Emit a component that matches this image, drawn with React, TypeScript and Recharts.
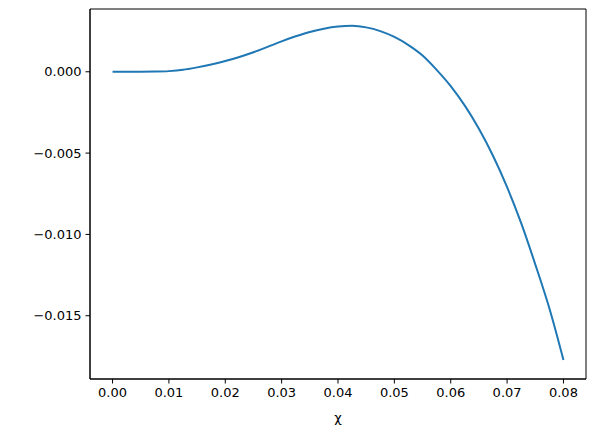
import { LineChart, Line, XAxis, YAxis, ReferenceArea } from 'recharts'

// values
const chiValues = [
  0, 0.0025, 0.005, 0.0075, 0.01, 0.0125, 0.015, 0.0175, 0.02, 0.0225, 0.025,
  0.0275, 0.03, 0.0325, 0.035, 0.0375, 0.04, 0.0425, 0.045, 0.0475, 0.05,
  0.0525, 0.055, 0.0575, 0.06, 0.0625, 0.065, 0.0675, 0.07, 0.0725, 0.075,
  0.0775, 0.08,
]
const fValues = [
  0, 0, 0, 0.00001, 0.00004, 0.00012, 0.00027, 0.00045, 0.00066, 0.00091,
  0.0012, 0.00153, 0.00187, 0.00218, 0.00245, 0.00265, 0.00278, 0.00283,
  0.00273, 0.0025, 0.00214, 0.00164, 0.001, 0.00012, -0.00088, -0.00208,
  -0.0035, -0.00516, -0.00709, -0.00931, -0.01184, -0.01454, -0.01772,
]
const xTicks = [0, 0.01, 0.02, 0.03, 0.04, 0.05, 0.06, 0.07, 0.08]
const yTicks = [-0.015, -0.01, -0.005, 0]

const xDomain: [number, number] = [-0.004, 0.084]
const yDomain: [number, number] = [-0.01889, 0.00386]

const data = chiValues.map((chi, i) => ({ chi, f: fValues[i] }))

const font = 'DejaVu Sans, sans-serif'
const tickStyle = { fontSize: 13, fill: '#000', fontFamily: font }

const fmtY = (v: number) => {
  const s = Math.abs(v).toFixed(3)
  return v < 0 ? '\u2212' + s : s
}

export default function App() {
  return (
    <div style={{ position: 'absolute', left: 0, top: 0, background: '#fff' }}>
      <LineChart
        width={596}
        height={432}
        data={data}
        margin={{ top: 9, right: 10, left: 0, bottom: 0 }}
      >
        <XAxis
          dataKey="chi"
          type="number"
          domain={xDomain}
          ticks={xTicks}
          allowDataOverflow
          tickFormatter={(v: number) => v.toFixed(2)}
          tick={tickStyle}
          tickSize={4.5}
          tickMargin={4}
          stroke="#000"
          height={53}
          label={{
            value: 'χ',
            position: 'insideBottom',
            offset: 10,
            style: { fontSize: 13, fill: '#000', fontFamily: font },
          }}
        />
        <YAxis
          type="number"
          domain={yDomain}
          ticks={yTicks}
          allowDataOverflow
          tickFormatter={fmtY}
          tick={tickStyle}
          tickSize={4.5}
          tickMargin={4}
          stroke="#000"
          width={90}
        />
        <ReferenceArea
          x1={xDomain[0]}
          x2={xDomain[1]}
          y1={yDomain[0]}
          y2={yDomain[1]}
          fill="none"
          stroke="#000"
          strokeWidth={1}
          ifOverflow="extendDomain"
        />
        <Line
          dataKey="f"
          type="monotone"
          stroke="#1f77b4"
          strokeWidth={2}
          dot={false}
          isAnimationActive={false}
        />
      </LineChart>
    </div>
  )
}
